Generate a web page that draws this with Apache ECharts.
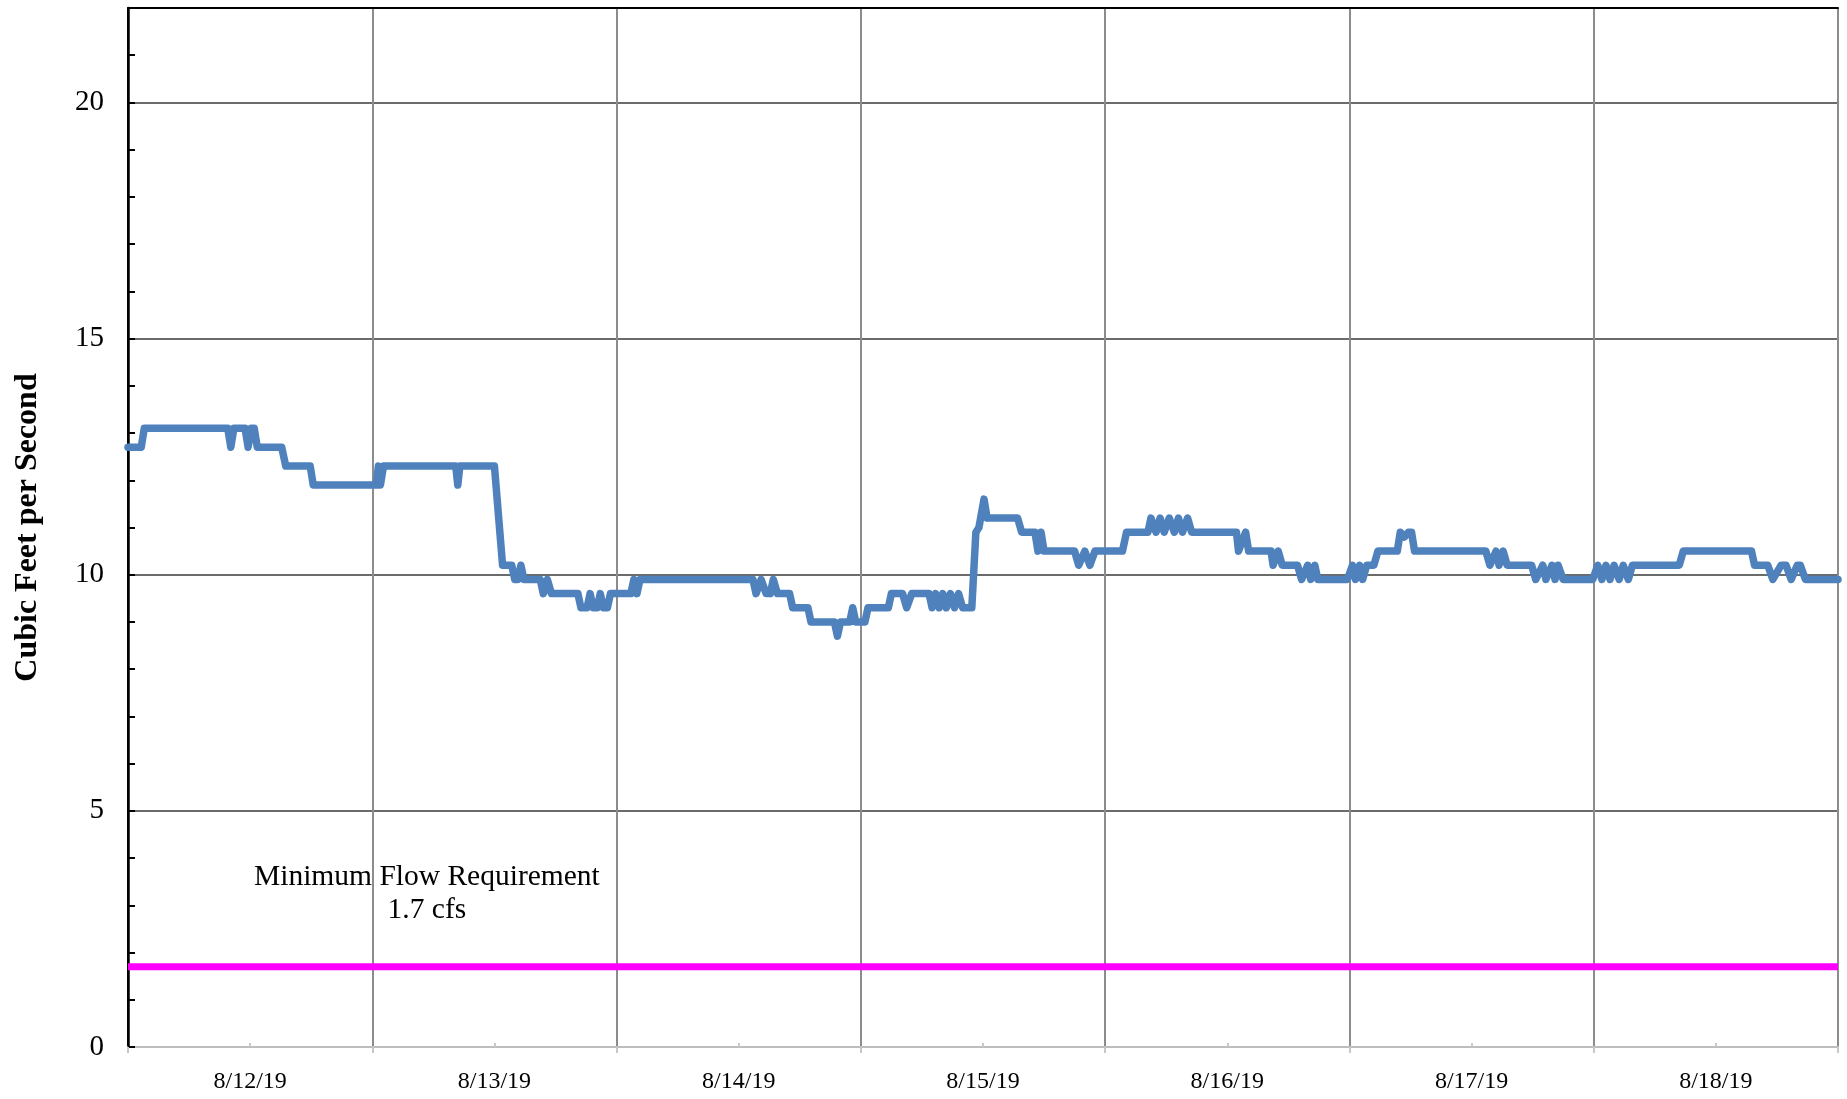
<!DOCTYPE html>
<html>
<head>
<meta charset="utf-8">
<title>Cubic Feet per Second</title>
<script src="https://cdn.jsdelivr.net/npm/echarts@6/dist/echarts.min.js"></script>
<style>
  html, body { margin: 0; padding: 0; background: #fff; }
  #chart { width: 1847px; height: 1099px; }
</style>
</head>
<body>
<div id="chart"></div>
<script>
// day labels (one per day, centred at noon)
const dayLabels = ['8/12/19', '8/13/19', '8/14/19', '8/15/19', '8/16/19', '8/17/19', '8/18/19']

// hours since 8/12/19 00:00
const flowHours = [
  0, 1.3, 1.6, 9.8, 10.1, 10.4, 11.5, 11.8, 12.1, 12.4, 12.7, 15.1, 15.5, 17.9, 18.2,
  24.4, 24.6, 24.8, 25.1, 32.2, 32.4, 32.6, 36.0, 36.8, 37.7, 38.0, 38.3, 38.6, 38.9,
  40.5, 40.8, 41.2, 41.6, 44.2, 44.5, 45.1, 45.4, 45.7, 46.1, 46.4, 46.7, 47.1, 47.4,
  49.4, 49.7, 50.0, 50.3, 61.4, 61.7, 62.2, 62.7, 63.1, 63.4, 63.8, 65.0, 65.3, 66.8,
  67.1, 69.4, 69.7, 70.0, 70.9, 71.2, 71.5, 72.4, 72.7, 74.7, 75.0, 76.1, 76.5, 77.0,
  78.7, 79.0, 79.35, 79.7, 80.05, 80.4, 80.8, 81.2, 81.6, 82.0, 82.9, 83.3, 83.6, 84.1,
  84.4, 87.4, 87.8, 89.1, 89.4, 89.7, 90.0, 93.0, 93.4, 94.0, 94.5, 95.0, 97.7, 98.1,
  100.2, 100.5, 101.0, 101.4, 101.8, 102.3, 102.8, 103.2, 103.6, 104.1, 104.5, 108.9,
  109.1, 109.8, 110.1, 112.3, 112.5, 113.0, 113.4, 114.9, 115.3, 115.9, 116.2, 116.6,
  116.9, 119.8, 120.3, 120.6, 121.0, 121.3, 121.7, 122.4, 122.8, 124.7, 125.0, 125.4,
  125.8, 126.1, 126.4, 133.4, 133.8, 134.4, 134.7, 135.1, 135.5, 137.9, 138.3, 139.0,
  139.3, 139.9, 140.2, 140.5, 141.0, 143.9, 144.4, 144.8, 145.2, 145.6, 146.0, 146.5,
  146.9, 147.4, 147.8, 152.4, 152.8, 159.5, 159.8, 161.1, 161.6, 162.4, 162.9, 163.4,
  164.0, 164.3, 164.8, 168
]

// flow in cfs at each of those hours
const flowCfs = [
  12.7, 12.7, 13.1, 13.1, 12.7, 13.1, 13.1, 12.7, 13.1, 13.1, 12.7, 12.7, 12.3, 12.3, 11.9,
  11.9, 12.3, 11.9, 12.3, 12.3, 11.9, 12.3, 12.3, 10.2, 10.2, 9.9, 9.9, 10.2, 9.9,
  9.9, 9.6, 9.9, 9.6, 9.6, 9.3, 9.3, 9.6, 9.3, 9.3, 9.6, 9.3, 9.3, 9.6,
  9.6, 9.9, 9.6, 9.9, 9.9, 9.6, 9.9, 9.6, 9.6, 9.9, 9.6, 9.6, 9.3, 9.3,
  9.0, 9.0, 8.7, 9.0, 9.0, 9.3, 9.0, 9.0, 9.3, 9.3, 9.6, 9.6, 9.3, 9.6,
  9.6, 9.3, 9.6, 9.3, 9.6, 9.3, 9.6, 9.3, 9.6, 9.3, 9.3, 10.9, 11.0, 11.6,
  11.2, 11.2, 10.9, 10.9, 10.5, 10.9, 10.5, 10.5, 10.2, 10.5, 10.2, 10.5, 10.5, 10.9,
  10.9, 11.2, 10.9, 11.2, 10.9, 11.2, 10.9, 11.2, 10.9, 11.2, 10.9, 10.9,
  10.5, 10.9, 10.5, 10.5, 10.2, 10.5, 10.2, 10.2, 9.9, 10.2, 9.9, 10.2,
  9.9, 9.9, 10.2, 9.9, 10.2, 9.9, 10.2, 10.2, 10.5, 10.5, 10.9, 10.8,
  10.9, 10.9, 10.5, 10.5, 10.2, 10.5, 10.2, 10.5, 10.2, 10.2, 9.9, 10.2,
  9.9, 10.2, 9.9, 10.2, 9.9, 9.9, 10.2, 9.9, 10.2, 9.9, 10.2, 9.9,
  10.2, 9.9, 10.2, 10.2, 10.5, 10.5, 10.2, 10.2, 9.9, 10.2, 10.2, 9.9,
  10.2, 10.2, 9.9, 9.9
]

// minimum flow requirement (cfs)
const minFlow = 1.7
const totalHours = 168

const serif = '"Liberation Serif", "Times New Roman", serif'

const flowData = flowHours.map((h, i) => [h, flowCfs[i]])
const minFlowData = [[0, minFlow], [totalHours, minFlow]]

const chart = echarts.init(document.getElementById('chart'), null, { renderer: 'canvas' })

const option = {
  animation: false,
  backgroundColor: '#ffffff',
  grid: {
    left: 128,
    right: 9,
    top: 8,
    bottom: 52,
    containLabel: false,
    outerBoundsMode: 'none'
  },
  xAxis: [
    {
      // data axis (hours)
      type: 'value',
      min: 0,
      max: totalHours,
      interval: 24,
      position: 'bottom',
      axisLine: { show: false },
      axisLabel: { show: false },
      axisTick: { show: false, inside: true },
      minorTick: { show: true, splitNumber: 2, length: 4, lineStyle: { color: '#c8c8c8', width: 2 } },
      splitLine: { show: false }
    },
    {
      // day labels and vertical gridlines
      type: 'category',
      data: dayLabels,
      boundaryGap: true,
      position: 'bottom',
      axisLine: { show: true, lineStyle: { color: '#bdbdbd', width: 2 } },
      axisTick: { show: true, inside: false, length: 6, lineStyle: { color: '#c8c8c8', width: 2 } },
      axisLabel: { show: true, margin: 23, color: '#000', fontFamily: serif, fontSize: 24 },
      splitLine: { show: true, lineStyle: { color: '#8c8c8c', width: 2 } }
    },
    {
      // top border
      type: 'value',
      min: 0,
      max: totalHours,
      position: 'top',
      axisLine: { show: true, lineStyle: { color: '#000', width: 2 } },
      axisTick: { show: false },
      axisLabel: { show: false },
      splitLine: { show: false }
    }
  ],
  yAxis: [
    {
      type: 'value',
      min: 0,
      max: 22,
      interval: 1,
      position: 'left',
      name: 'Cubic Feet per Second',
      nameLocation: 'middle',
      nameGap: 84,
      nameTextStyle: { color: '#000', fontFamily: serif, fontSize: 32, fontWeight: 'bold' },
      axisLine: { show: true, lineStyle: { color: '#000', width: 2.5 } },
      axisTick: { show: true, inside: true, length: 7, lineStyle: { color: '#000', width: 2 } },
      axisLabel: {
        margin: 24,
        color: '#000',
        fontFamily: serif,
        fontSize: 29,
        formatter: v => (v % 5 === 0 && v <= 20 ? String(v) : '')
      },
      splitLine: { show: false }
    },
    {
      // horizontal gridlines + right border
      type: 'value',
      min: 0,
      max: 22,
      interval: 5,
      position: 'right',
      axisLine: { show: true, lineStyle: { color: '#000', width: 2 } },
      axisTick: { show: false },
      axisLabel: { show: false },
      splitLine: {
        show: true,
        lineStyle: {
          color: ['rgba(0,0,0,0)', '#3a3a3a', '#3a3a3a', '#3a3a3a', '#3a3a3a', 'rgba(0,0,0,0)'],
          width: 1.5
        }
      }
    }
  ],
  graphic: [
    {
      type: 'text',
      left: 254,
      top: 861,
      style: {
        text: 'Minimum Flow Requirement\n1.7 cfs',
        textAlign: 'center',
        align: 'center',
        font: '29.5px ' + serif,
        lineHeight: 33,
        fill: '#000'
      },
      z: 10
    }
  ],
  series: [
    {
      name: 'Minimum Flow',
      type: 'line',
      xAxisIndex: 0,
      yAxisIndex: 0,
      data: minFlowData,
      showSymbol: false,
      silent: true,
      lineStyle: { color: '#ff00ff', width: 7 },
      z: 3
    },
    {
      name: 'Flow',
      type: 'line',
      xAxisIndex: 0,
      yAxisIndex: 0,
      data: flowData,
      showSymbol: false,
      silent: true,
      lineStyle: { color: '#4f81bd', width: 7.5, cap: 'round', join: 'round' },
      z: 4
    }
  ]
}

chart.setOption(option)

window.addEventListener('resize', () => {
  chart.resize()
})
</script>
</body>
</html>
